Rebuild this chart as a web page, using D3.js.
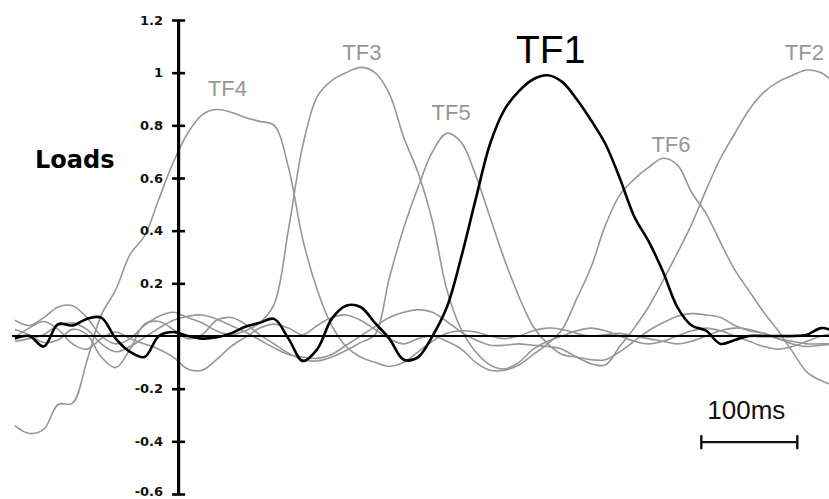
<!DOCTYPE html>
<html>
<head>
<meta charset="utf-8">
<script src="https://cdn.jsdelivr.net/npm/d3@7"></script>
<style>
  html, body { margin: 0; padding: 0; background: #fff; }
  svg { display: block; }
</style>
</head>
<body>
<div id="chart"></div>
<script>
// sample times (ms), y axis sits at t = 0
const times = [-170, -155, -140, -125, -110, -95, -80, -65, -50, -35, -20, -5,
    10, 25, 40, 55, 70, 85, 100, 115, 130, 145, 160, 175, 190, 205, 220, 235,
    250, 265, 280, 295, 310, 325, 340, 355, 370, 385, 400, 415, 430, 445, 460,
    475, 490, 505, 520, 535, 550, 565, 580, 595, 610, 625, 640, 655, 670, 685];

const tf1 = [-0.01, 0.0, -0.04, 0.045, 0.04, 0.065, 0.07, -0.01, -0.06, -0.08, 0.0, 0.015,
    0.0, -0.01, -0.005, 0.01, 0.035, 0.05, 0.065, -0.01, -0.095, -0.05, 0.065, 0.115,
    0.11, 0.05, -0.01, -0.09, -0.08, 0.0, 0.11, 0.30, 0.52, 0.73, 0.86, 0.93, 0.975,
    0.99, 0.965, 0.90, 0.82, 0.73, 0.60, 0.455, 0.36, 0.245, 0.11, 0.04, 0.02, -0.03,
    -0.015, 0.0, 0.0, 0.0, 0.0, 0.005, 0.03, 0.015];

const tf2 = [-0.02, -0.01, 0.005, 0.04, 0.05, 0.025, -0.03, -0.06, -0.04, -0.005, 0.03, 0.06,
    0.075, 0.08, 0.065, 0.04, 0.015, -0.015, -0.045, -0.07, -0.08, -0.085, -0.07, -0.035,
    0.0, 0.035, 0.07, 0.09, 0.1, 0.09, 0.055, 0.015, -0.015, -0.035, -0.035, -0.03, -0.035,
    -0.04, -0.05, -0.08, -0.105, -0.11, -0.04, 0.03, 0.11, 0.21, 0.315, 0.425, 0.555, 0.675,
    0.77, 0.86, 0.925, 0.965, 0.99, 1.01, 1.0, 0.955];

const tf3 = [0.06, 0.04, 0.07, 0.11, 0.115, 0.07, 0.0, -0.03, -0.01, 0.04, 0.075, 0.09,
    0.07, 0.05, 0.02, 0.005, 0.02, 0.05, 0.12, 0.405, 0.725, 0.91, 0.97, 1.0,
    1.02, 1.0, 0.92, 0.755, 0.62, 0.435, 0.175, 0.025, -0.06, -0.11, -0.125, -0.10, -0.05,
    -0.02, 0.0, 0.02, 0.03, 0.02, 0.0, -0.02, -0.03, -0.02, 0.0, 0.02, 0.03, 0.02,
    0.0, -0.02, -0.04, -0.05, -0.04, -0.02, 0.0, 0.01];

const tf4 = [-0.34, -0.37, -0.355, -0.26, -0.255, -0.095, 0.08, 0.175, 0.31, 0.38, 0.52, 0.66,
    0.77, 0.84, 0.86, 0.85, 0.83, 0.815, 0.80, 0.64, 0.365, 0.175, 0.04, -0.04,
    -0.08, -0.10, -0.115, -0.10, -0.06, -0.02, 0.01, 0.02, 0.015, 0.0, -0.01, 0.0, 0.02,
    0.03, 0.025, 0.01, 0.0, 0.005, 0.01, 0.0, -0.01, -0.02, -0.03, -0.02, 0.0, 0.02,
    0.03, 0.025, 0.01, -0.01, -0.03, -0.04, -0.035, -0.03];

const tf5 = [0.025, 0.005, -0.025, -0.015, 0.025, 0.005, -0.08, -0.12, -0.05, 0.045, 0.055, 0.025,
    -0.01, 0.005, 0.06, 0.07, 0.045, 0.005, -0.03, -0.065, -0.09, -0.095, -0.08, -0.055,
    -0.025, 0.005, 0.22, 0.41, 0.565, 0.70, 0.77, 0.735, 0.61, 0.45, 0.29, 0.15, 0.035,
    -0.03, -0.07, -0.08, -0.09, -0.09, -0.06, -0.02, 0.02, 0.05, 0.075, 0.085, 0.08, 0.07,
    0.04, 0.02, 0.01, -0.01, -0.02, -0.03, -0.03, -0.03];

const tf6 = [-0.005, 0.03, 0.055, 0.025, -0.03, -0.05, -0.01, 0.015, -0.01, -0.03, -0.05, -0.08,
    -0.125, -0.13, -0.09, -0.04, -0.005, 0.03, 0.045, 0.03, 0.005, 0.04, 0.07, 0.08,
    0.06, 0.025, -0.01, -0.03, -0.01, 0.0, -0.02, -0.05, -0.10, -0.13, -0.13, -0.11, -0.07,
    -0.03, 0.025, 0.14, 0.26, 0.42, 0.535, 0.595, 0.64, 0.675, 0.65, 0.545, 0.465, 0.355,
    0.25, 0.17, 0.09, 0.02, -0.06, -0.137, -0.17, -0.19];

const yTicks = [1.2, 1, 0.8, 0.6, 0.4, 0.2, -0.2, -0.4, -0.6];

// label anchors: [time, load] of each label's left baseline
const labelNames = ["TF4", "TF3", "TF5", "TF1", "TF6", "TF2"];
const labelTimes = [31, 171, 264, 352, 493, 632];
const labelLoads = [0.912, 1.048, 0.821, 1.037, 0.70, 1.048];

const scaleBarStart = 545, scaleBarLength = 100, scaleBarLoad = -0.403;

const W = 829, H = 499;
const svg = d3.select("#chart").append("svg")
    .attr("width", W)
    .attr("height", H);

const x = d3.scaleLinear().domain([-173, 678]).range([12, 829]);
const y = d3.scaleLinear().domain([-0.6, 1.2]).range([494, 20]);

svg.append("clipPath").attr("id", "plotclip")
    .append("rect")
    .attr("x", x(-173)).attr("y", 0)
    .attr("width", x(678) - x(-173)).attr("height", H);

const line = d3.line()
    .x((d, i) => x(times[i]))
    .y(d => y(d))
    .curve(d3.curveCatmullRom.alpha(0.5));

const grey = "#979797";

// grey factors first
const plot = svg.append("g").attr("clip-path", "url(#plotclip)");
[tf4, tf3, tf5, tf6, tf2].forEach(vals => {
    plot.append("path")
        .datum(vals)
        .attr("fill", "none")
        .attr("stroke", grey)
        .attr("stroke-width", 1.6)
        .attr("stroke-linejoin", "round")
        .attr("d", line);
});

// zero line
svg.append("line")
    .attr("x1", x(-173)).attr("x2", x(678))
    .attr("y1", y(0)).attr("y2", y(0))
    .attr("stroke", "#000")
    .attr("stroke-width", 2);

// TF1 on top
plot.append("path")
    .datum(tf1)
    .attr("fill", "none")
    .attr("stroke", "#000")
    .attr("stroke-width", 2.6)
    .attr("stroke-linejoin", "round")
    .attr("d", line);

// y axis
const yAxis = svg.append("g")
    .attr("transform", `translate(${x(0)},0)`)
    .call(d3.axisLeft(y)
        .tickValues(yTicks)
        .tickSizeOuter(0)
        .tickSizeInner(6)
        .tickPadding(9)
        .tickFormat(d => String(d)));

yAxis.select(".domain")
    .attr("stroke", "#000")
    .attr("stroke-width", 3.2);
yAxis.selectAll(".tick line")
    .attr("x1", -6).attr("x2", 7)
    .attr("stroke", "#000")
    .attr("stroke-width", 2.6);
yAxis.selectAll(".tick text")
    .attr("fill", "#111")
    .style("font-family", "'DejaVu Sans', Verdana, sans-serif")
    .style("font-size", "13px")
    .style("font-weight", "bold");
// bottom label sits against the lower edge, keep it inside
yAxis.selectAll(".tick text").filter(d => d === -0.6).attr("dy", "0.1em");

svg.append("text")
    .attr("x", 35)
    .attr("y", 168)
    .style("font-family", "'DejaVu Sans', Verdana, sans-serif")
    .style("font-size", "24px")
    .style("font-weight", "bold")
    .attr("fill", "#000")
    .text("Loads");

// factor labels
labelNames.forEach((name, i) => {
    const big = name === "TF1";
    svg.append("text")
        .attr("x", x(labelTimes[i]))
        .attr("y", y(labelLoads[i]))
        .style("font-family", "'Liberation Sans', Arial, sans-serif")
        .style("font-size", big ? "39px" : "22px")
        .attr("fill", big ? "#000" : grey)
        .text(name);
});

// 100 ms scale bar
const sb = svg.append("g");
const sbY = y(scaleBarLoad);
sb.append("line")
    .attr("x1", x(scaleBarStart)).attr("x2", x(scaleBarStart + scaleBarLength))
    .attr("y1", sbY).attr("y2", sbY)
    .attr("stroke", "#111").attr("stroke-width", 2.4);
[scaleBarStart, scaleBarStart + scaleBarLength].forEach(t => {
    sb.append("line")
        .attr("x1", x(t)).attr("x2", x(t))
        .attr("y1", sbY - 7).attr("y2", sbY + 7)
        .attr("stroke", "#111").attr("stroke-width", 2.4);
});
sb.append("text")
    .attr("x", x(scaleBarStart + scaleBarLength / 2) - 3)
    .attr("y", sbY - 23)
    .attr("text-anchor", "middle")
    .style("font-family", "'Liberation Sans', Arial, sans-serif")
    .style("font-size", "26px")
    .attr("fill", "#111")
    .text("100ms");
</script>
</body>
</html>
